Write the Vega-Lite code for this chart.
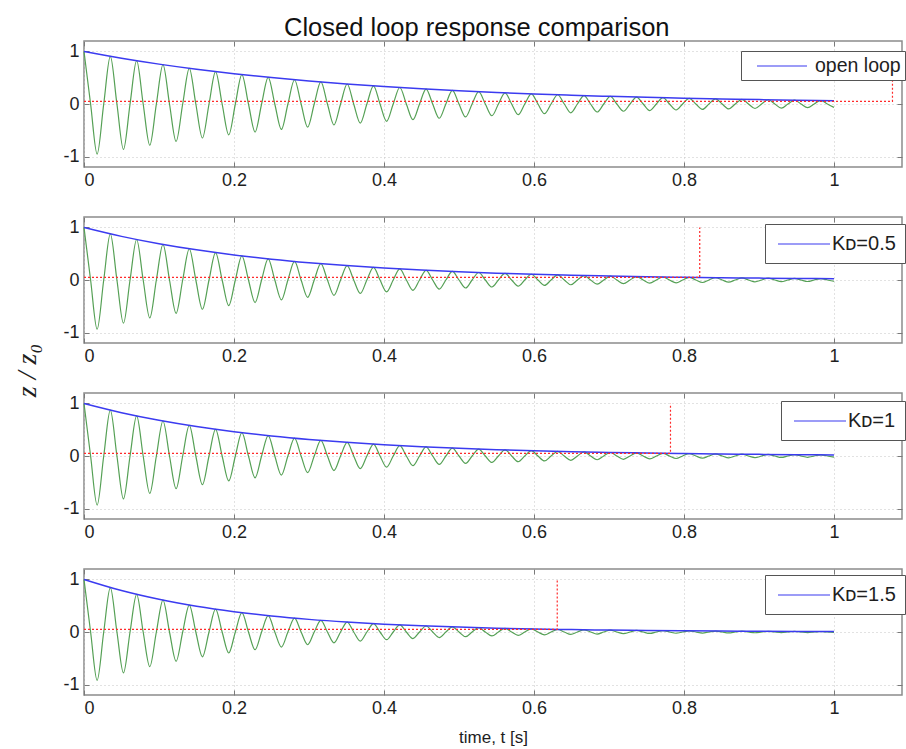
{
  "$schema": "https://vega.github.io/schema/vega-lite/v6.json",
  "padding": {"left": 12, "top": 16, "right": 0, "bottom": 0},
  "title": {"text": "Closed loop response comparison", "fontSize": 25.5, "fontWeight": "normal", "font": "Liberation Sans", "color": "#111", "anchor": "start", "frame": "group", "dx": 200, "offset": -2},
  "datasets": {
    "osc": [
      {"t":0,"a":1,"b":1,"c":1,"d":1},{"t":0.0088,"a":0,"b":0,"c":0,"d":0},
      {"t":0.0175,"a":-0.9529,"b":-0.9371,"c":-0.9347,"d":-0.92},{"t":0.0263,"a":0,"b":0,"c":0,"d":0},
      {"t":0.0351,"a":0.908,"b":0.8783,"c":0.8736,"d":0.8465},{"t":0.0439,"a":0,"b":0,"c":0,"d":0},
      {"t":0.0526,"a":-0.8653,"b":-0.8231,"c":-0.8166,"d":-0.7788},{"t":0.0614,"a":0,"b":0,"c":0,"d":0},
      {"t":0.0702,"a":0.8245,"b":0.7714,"c":0.7632,"d":0.7165},{"t":0.0789,"a":0,"b":0,"c":0,"d":0},
      {"t":0.0877,"a":-0.7857,"b":-0.7229,"c":-0.7134,"d":-0.6592},{"t":0.0965,"a":0,"b":0,"c":0,"d":0},
      {"t":0.1053,"a":0.7487,"b":0.6774,"c":0.6668,"d":0.6065},{"t":0.114,"a":0,"b":0,"c":0,"d":0},
      {"t":0.1228,"a":-0.7134,"b":-0.6348,"c":-0.6233,"d":-0.558},{"t":0.1316,"a":0,"b":0,"c":0,"d":0},
      {"t":0.1404,"a":0.6798,"b":0.5949,"c":0.5825,"d":0.5134},{"t":0.1491,"a":0,"b":0,"c":0,"d":0},
      {"t":0.1579,"a":-0.6478,"b":-0.5576,"c":-0.5445,"d":-0.4724},{"t":0.1667,"a":0,"b":0,"c":0,"d":0},
      {"t":0.1754,"a":0.6173,"b":0.5225,"c":0.5089,"d":0.4346},{"t":0.1842,"a":0,"b":0,"c":0,"d":0},
      {"t":0.193,"a":-0.5882,"b":-0.4897,"c":-0.4757,"d":-0.3998},{"t":0.2018,"a":0,"b":0,"c":0,"d":0},
      {"t":0.2105,"a":0.5605,"b":0.4589,"c":0.4446,"d":0.3679},{"t":0.2193,"a":0,"b":0,"c":0,"d":0},
      {"t":0.2281,"a":-0.5341,"b":-0.43,"c":-0.4156,"d":-0.3385},{"t":0.2368,"a":0,"b":0,"c":0,"d":0},
      {"t":0.2456,"a":0.5089,"b":0.403,"c":0.3884,"d":0.3114},{"t":0.2544,"a":0,"b":0,"c":0,"d":0},
      {"t":0.2632,"a":-0.485,"b":-0.3777,"c":-0.3631,"d":-0.2865},{"t":0.2719,"a":0,"b":0,"c":0,"d":0},
      {"t":0.2807,"a":0.4621,"b":0.3539,"c":0.3394,"d":0.2636},{"t":0.2895,"a":0,"b":0,"c":0,"d":0},
      {"t":0.2982,"a":-0.4403,"b":-0.3317,"c":-0.3172,"d":-0.2425},{"t":0.307,"a":0,"b":0,"c":0,"d":0},
      {"t":0.3158,"a":0.4196,"b":0.3109,"c":0.2965,"d":0.2231},{"t":0.3246,"a":0,"b":0,"c":0,"d":0},
      {"t":0.3333,"a":-0.3998,"b":-0.2913,"c":-0.2771,"d":-0.2053},{"t":0.3421,"a":0,"b":0,"c":0,"d":0},
      {"t":0.3509,"a":0.381,"b":0.273,"c":0.259,"d":0.1889},{"t":0.3596,"a":0,"b":0,"c":0,"d":0},
      {"t":0.3684,"a":-0.3631,"b":-0.2558,"c":-0.2421,"d":-0.1738},{"t":0.3772,"a":0,"b":0,"c":0,"d":0},
      {"t":0.386,"a":0.346,"b":0.2397,"c":0.2263,"d":0.1599},{"t":0.3947,"a":0,"b":0,"c":0,"d":0},
      {"t":0.4035,"a":-0.3297,"b":-0.2247,"c":-0.2115,"d":-0.1471},{"t":0.4123,"a":0,"b":0,"c":0,"d":0},
      {"t":0.4211,"a":0.3141,"b":0.2106,"c":0.1977,"d":0.1353},{"t":0.4298,"a":0,"b":0,"c":0,"d":0},
      {"t":0.4386,"a":-0.2994,"b":-0.1973,"c":-0.1848,"d":-0.1245},{"t":0.4474,"a":0,"b":0,"c":0,"d":0},
      {"t":0.4561,"a":0.2852,"b":0.1849,"c":0.1727,"d":0.1146},{"t":0.4649,"a":0,"b":0,"c":0,"d":0},
      {"t":0.4737,"a":-0.2718,"b":-0.1733,"c":-0.1614,"d":-0.1054},{"t":0.4825,"a":0,"b":0,"c":0,"d":0},
      {"t":0.4912,"a":0.259,"b":0.1624,"c":0.1509,"d":0.097},{"t":0.5,"a":0,"b":0,"c":0,"d":0},
      {"t":0.5088,"a":-0.2468,"b":-0.1522,"c":-0.141,"d":-0.0892},{"t":0.5175,"a":0,"b":0,"c":0,"d":0},
      {"t":0.5263,"a":0.2352,"b":0.1427,"c":0.1318,"d":0.0821},{"t":0.5351,"a":0,"b":0,"c":0,"d":0},
      {"t":0.5439,"a":-0.2241,"b":-0.1337,"c":-0.1232,"d":-0.0755},{"t":0.5526,"a":0,"b":0,"c":0,"d":0},
      {"t":0.5614,"a":0.2135,"b":0.1253,"c":0.1152,"d":0.0695},{"t":0.5702,"a":0,"b":0,"c":0,"d":0},
      {"t":0.5789,"a":-0.2035,"b":-0.1174,"c":-0.1076,"d":-0.0639},{"t":0.5877,"a":0,"b":0,"c":0,"d":0},
      {"t":0.5965,"a":0.1939,"b":0.11,"c":0.1006,"d":0.0588},{"t":0.6053,"a":0,"b":0,"c":0,"d":0},
      {"t":0.614,"a":-0.1848,"b":-0.1031,"c":-0.094,"d":-0.0541},{"t":0.6228,"a":0,"b":0,"c":0,"d":0},
      {"t":0.6316,"a":0.1761,"b":0.0966,"c":0.0879,"d":0.0498},{"t":0.6404,"a":0,"b":0,"c":0,"d":0},
      {"t":0.6491,"a":-0.1678,"b":-0.0906,"c":-0.0821,"d":-0.0458},{"t":0.6579,"a":0,"b":0,"c":0,"d":0},
      {"t":0.6667,"a":0.1599,"b":0.0849,"c":0.0768,"d":0.0421},{"t":0.6754,"a":0,"b":0,"c":0,"d":0},
      {"t":0.6842,"a":-0.1524,"b":-0.0795,"c":-0.0718,"d":-0.0388},{"t":0.693,"a":0,"b":0,"c":0,"d":0},
      {"t":0.7018,"a":0.1452,"b":0.0745,"c":0.0671,"d":0.0357},{"t":0.7105,"a":0,"b":0,"c":0,"d":0},
      {"t":0.7193,"a":-0.1383,"b":-0.0698,"c":-0.0627,"d":-0.0328},{"t":0.7281,"a":0,"b":0,"c":0,"d":0},
      {"t":0.7368,"a":0.1318,"b":0.0655,"c":0.0586,"d":0.0302},{"t":0.7456,"a":0,"b":0,"c":0,"d":0},
      {"t":0.7544,"a":-0.1256,"b":-0.0613,"c":-0.0548,"d":-0.0278},{"t":0.7632,"a":0,"b":0,"c":0,"d":0},
      {"t":0.7719,"a":0.1197,"b":0.0575,"c":0.0512,"d":0.0256},{"t":0.7807,"a":0,"b":0,"c":0,"d":0},
      {"t":0.7895,"a":-0.114,"b":-0.0539,"c":-0.0479,"d":-0.0235},{"t":0.7982,"a":0,"b":0,"c":0,"d":0},
      {"t":0.807,"a":0.1087,"b":0.0505,"c":0.0447,"d":0.0216},{"t":0.8158,"a":0,"b":0,"c":0,"d":0},
      {"t":0.8246,"a":-0.1036,"b":-0.0473,"c":-0.0418,"d":-0.0199},{"t":0.8333,"a":0,"b":0,"c":0,"d":0},
      {"t":0.8421,"a":0.0987,"b":0.0443,"c":0.0391,"d":0.0183},{"t":0.8509,"a":0,"b":0,"c":0,"d":0},
      {"t":0.8596,"a":-0.094,"b":-0.0415,"c":-0.0365,"d":-0.0169},{"t":0.8684,"a":0,"b":0,"c":0,"d":0},
      {"t":0.8772,"a":0.0896,"b":0.0389,"c":0.0341,"d":0.0155},{"t":0.886,"a":0,"b":0,"c":0,"d":0},
      {"t":0.8947,"a":-0.0854,"b":-0.0365,"c":-0.0319,"d":-0.0143},{"t":0.9035,"a":0,"b":0,"c":0,"d":0},
      {"t":0.9123,"a":0.0814,"b":0.0342,"c":0.0298,"d":0.0131},{"t":0.9211,"a":0,"b":0,"c":0,"d":0},
      {"t":0.9298,"a":-0.0775,"b":-0.032,"c":-0.0279,"d":-0.0121},{"t":0.9386,"a":0,"b":0,"c":0,"d":0},
      {"t":0.9474,"a":0.0739,"b":0.03,"c":0.0261,"d":0.0111},{"t":0.9561,"a":0,"b":0,"c":0,"d":0},
      {"t":0.9649,"a":-0.0704,"b":-0.0281,"c":-0.0243,"d":-0.0102},{"t":0.9737,"a":0,"b":0,"c":0,"d":0},
      {"t":0.9825,"a":0.0671,"b":0.0264,"c":0.0228,"d":0.0094},{"t":0.9912,"a":0,"b":0,"c":0,"d":0},
      {"t":1,"a":-0.0639,"b":-0.0247,"c":-0.0213,"d":-0.0087}
    ],
    "env": [
      {"t":0,"a":1,"b":1,"c":1,"d":1},
      {"t":0.05,"a":0.8715,"b":0.8311,"c":0.8249,"d":0.7886},
      {"t":0.1,"a":0.7596,"b":0.6907,"c":0.6805,"d":0.6219},
      {"t":0.15,"a":0.662,"b":0.5741,"c":0.5613,"d":0.4904},
      {"t":0.2,"a":0.5769,"b":0.4771,"c":0.463,"d":0.3867},
      {"t":0.25,"a":0.5028,"b":0.3965,"c":0.3819,"d":0.305},
      {"t":0.3,"a":0.4382,"b":0.3296,"c":0.3151,"d":0.2405},
      {"t":0.35,"a":0.3819,"b":0.2739,"c":0.2599,"d":0.1896},
      {"t":0.4,"a":0.3329,"b":0.2276,"c":0.2144,"d":0.1496},
      {"t":0.45,"a":0.2901,"b":0.1892,"c":0.1768,"d":0.118},
      {"t":0.5,"a":0.2528,"b":0.1572,"c":0.1459,"d":0.093},
      {"t":0.55,"a":0.2204,"b":0.1307,"c":0.1203,"d":0.0733},
      {"t":0.6,"a":0.192,"b":0.1086,"c":0.0993,"d":0.0578},
      {"t":0.65,"a":0.1674,"b":0.0903,"c":0.0819,"d":0.0456},
      {"t":0.7,"a":0.1459,"b":0.075,"c":0.0675,"d":0.036},
      {"t":0.75,"a":0.1271,"b":0.0624,"c":0.0557,"d":0.0284},
      {"t":0.8,"a":0.1108,"b":0.0518,"c":0.046,"d":0.0224},
      {"t":0.85,"a":0.0966,"b":0.0431,"c":0.0379,"d":0.0176},
      {"t":0.9,"a":0.0842,"b":0.0358,"c":0.0313,"d":0.0139},
      {"t":0.95,"a":0.0733,"b":0.0297,"c":0.0258,"d":0.011},
      {"t":1,"a":0.0639,"b":0.0247,"c":0.0213,"d":0.0087}
    ],
    "settle": [
      {"p":1,"o":1,"t":0,"z":0.05},{"p":1,"o":2,"t":1.078,"z":0.05},{"p":1,"o":3,"t":1.078,"z":1},
      {"p":2,"o":1,"t":0,"z":0.05},{"p":2,"o":2,"t":0.821,"z":0.05},{"p":2,"o":3,"t":0.821,"z":1},
      {"p":3,"o":1,"t":0,"z":0.05},{"p":3,"o":2,"t":0.782,"z":0.05},{"p":3,"o":3,"t":0.782,"z":1},
      {"p":4,"o":1,"t":0,"z":0.05},{"p":4,"o":2,"t":0.631,"z":0.05},{"p":4,"o":3,"t":0.631,"z":1}
    ]
  },
  "vconcat": [
    {
      "width": 818, "height": 126,
      "layer": [
        {"data": {"name": "osc"}, "mark": {"type": "line", "color": "#55a055", "strokeWidth": 1.2, "interpolate": "monotone"},
         "encoding": {
           "x": {"field": "t", "type": "quantitative", "scale": {"domain": [0, 1.0907], "nice": false}, "axis": {"orient": "top", "labels": false, "grid": false, "values": [0,0.2,0.4,0.6,0.8,1], "title": null, "minExtent": 0, "maxExtent": 0}},
           "y": {"field": "a", "type": "quantitative", "scale": {"domain": [-1.2, 1.2], "nice": false}, "axis": {"orient": "right", "labels": false, "grid": false, "values": [-1,0,1], "title": null, "minExtent": 0, "maxExtent": 0}}}},
        {"data": {"name": "env"}, "mark": {"type": "line", "strokeWidth": 1.5, "interpolate": "monotone"},
         "encoding": {
           "x": {"field": "t", "type": "quantitative", "axis": {"orient": "bottom", "grid": true, "values": [0,0.2,0.4,0.6,0.8,1], "format": "~g", "title": null}},
           "y": {"field": "a", "type": "quantitative", "axis": {"orient": "left", "grid": true, "values": [-1,0,1], "format": "~g", "labelExpr": "replace(datum.label, '−', '-')", "title": null}},
           "color": {"datum": "open loop", "scale": {"range": ["#3b3bf0"]}, "legend": {"title": null, "labelFontSize": 19.5, "padding": 4, "symbolType": "M0.1,0H5.1", "labelOffset": 48, "orient": "none", "legendX": 657, "legendY": 10}}}},
        {"data": {"name": "settle"}, "transform": [{"filter": "datum.p == 1"}], "mark": {"type": "line", "color": "#ff2a2a", "strokeDash": [2, 2], "strokeWidth": 1.2},
         "encoding": {"x": {"field": "t", "type": "quantitative", "axis": null}, "y": {"field": "z", "type": "quantitative", "axis": null}, "order": {"field": "o"}}}
      ],
      "resolve": {"axis": {"x": "independent", "y": "independent"}}
    },
    {
      "width": 818, "height": 126,
      "layer": [
        {"data": {"name": "osc"}, "mark": {"type": "line", "color": "#55a055", "strokeWidth": 1.2, "interpolate": "monotone"},
         "encoding": {
           "x": {"field": "t", "type": "quantitative", "scale": {"domain": [0, 1.0907], "nice": false}, "axis": {"orient": "top", "labels": false, "grid": false, "values": [0,0.2,0.4,0.6,0.8,1], "title": null, "minExtent": 0, "maxExtent": 0}},
           "y": {"field": "b", "type": "quantitative", "scale": {"domain": [-1.2, 1.2], "nice": false}, "axis": {"orient": "right", "labels": false, "grid": false, "values": [-1,0,1], "title": null, "minExtent": 0, "maxExtent": 0}}}},
        {"data": {"name": "env"}, "mark": {"type": "line", "strokeWidth": 1.5, "interpolate": "monotone"},
         "encoding": {
           "x": {"field": "t", "type": "quantitative", "axis": {"orient": "bottom", "grid": true, "values": [0,0.2,0.4,0.6,0.8,1], "format": "~g", "title": null}},
           "y": {"field": "b", "type": "quantitative", "axis": {"orient": "left", "grid": true, "values": [-1,0,1], "format": "~g", "labelExpr": "replace(datum.label, '−', '-')", "title": "z / z₀", "titleFont": "Liberation Serif", "titleFontStyle": "italic", "titleFontSize": 28, "titleFontWeight": "normal", "titleAngle": -90, "titleX": -43, "titleY": 153, "titleAlign": "center", "titleBaseline": "bottom"}},
           "color": {"datum": "Kᴅ=0.5", "scale": {"range": ["#3b3bf0"]}, "legend": {"title": null, "labelFontSize": 20, "padding": 9, "symbolType": "M-0.7,0H4.5", "labelOffset": 36, "orient": "none", "legendX": 681, "legendY": 7}}}},
        {"data": {"name": "settle"}, "transform": [{"filter": "datum.p == 2"}], "mark": {"type": "line", "color": "#ff2a2a", "strokeDash": [2, 2], "strokeWidth": 1.2},
         "encoding": {"x": {"field": "t", "type": "quantitative", "axis": null}, "y": {"field": "z", "type": "quantitative", "axis": null}, "order": {"field": "o"}}}
      ],
      "resolve": {"axis": {"x": "independent", "y": "independent"}}
    },
    {
      "width": 818, "height": 126,
      "layer": [
        {"data": {"name": "osc"}, "mark": {"type": "line", "color": "#55a055", "strokeWidth": 1.2, "interpolate": "monotone"},
         "encoding": {
           "x": {"field": "t", "type": "quantitative", "scale": {"domain": [0, 1.0907], "nice": false}, "axis": {"orient": "top", "labels": false, "grid": false, "values": [0,0.2,0.4,0.6,0.8,1], "title": null, "minExtent": 0, "maxExtent": 0}},
           "y": {"field": "c", "type": "quantitative", "scale": {"domain": [-1.2, 1.2], "nice": false}, "axis": {"orient": "right", "labels": false, "grid": false, "values": [-1,0,1], "title": null, "minExtent": 0, "maxExtent": 0}}}},
        {"data": {"name": "env"}, "mark": {"type": "line", "strokeWidth": 1.5, "interpolate": "monotone"},
         "encoding": {
           "x": {"field": "t", "type": "quantitative", "axis": {"orient": "bottom", "grid": true, "values": [0,0.2,0.4,0.6,0.8,1], "format": "~g", "title": null}},
           "y": {"field": "c", "type": "quantitative", "axis": {"orient": "left", "grid": true, "values": [-1,0,1], "format": "~g", "labelExpr": "replace(datum.label, '−', '-')", "title": null}},
           "color": {"datum": "Kᴅ=1", "scale": {"range": ["#3b3bf0"]}, "legend": {"title": null, "labelFontSize": 20, "padding": 9, "symbolType": "M-0.7,0H4.5", "labelOffset": 36, "orient": "none", "legendX": 697, "legendY": 8}}}},
        {"data": {"name": "settle"}, "transform": [{"filter": "datum.p == 3"}], "mark": {"type": "line", "color": "#ff2a2a", "strokeDash": [2, 2], "strokeWidth": 1.2},
         "encoding": {"x": {"field": "t", "type": "quantitative", "axis": null}, "y": {"field": "z", "type": "quantitative", "axis": null}, "order": {"field": "o"}}}
      ],
      "resolve": {"axis": {"x": "independent", "y": "independent"}}
    },
    {
      "width": 818, "height": 126,
      "layer": [
        {"data": {"name": "osc"}, "mark": {"type": "line", "color": "#55a055", "strokeWidth": 1.2, "interpolate": "monotone"},
         "encoding": {
           "x": {"field": "t", "type": "quantitative", "scale": {"domain": [0, 1.0907], "nice": false}, "axis": {"orient": "top", "labels": false, "grid": false, "values": [0,0.2,0.4,0.6,0.8,1], "title": null, "minExtent": 0, "maxExtent": 0}},
           "y": {"field": "d", "type": "quantitative", "scale": {"domain": [-1.2, 1.2], "nice": false}, "axis": {"orient": "right", "labels": false, "grid": false, "values": [-1,0,1], "title": null, "minExtent": 0, "maxExtent": 0}}}},
        {"data": {"name": "env"}, "mark": {"type": "line", "strokeWidth": 1.5, "interpolate": "monotone"},
         "encoding": {
           "x": {"field": "t", "type": "quantitative", "axis": {"orient": "bottom", "grid": true, "values": [0,0.2,0.4,0.6,0.8,1], "format": "~g", "title": "time, t [s]", "titleFontSize": 17, "titlePadding": 12}},
           "y": {"field": "d", "type": "quantitative", "axis": {"orient": "left", "grid": true, "values": [-1,0,1], "format": "~g", "labelExpr": "replace(datum.label, '−', '-')", "title": null}},
           "color": {"datum": "Kᴅ=1.5", "scale": {"range": ["#3b3bf0"]}, "legend": {"title": null, "labelFontSize": 20, "padding": 9, "symbolType": "M-0.7,0H4.5", "labelOffset": 36, "orient": "none", "legendX": 681, "legendY": 6}}}},
        {"data": {"name": "settle"}, "transform": [{"filter": "datum.p == 4"}], "mark": {"type": "line", "color": "#ff2a2a", "strokeDash": [2, 2], "strokeWidth": 1.2},
         "encoding": {"x": {"field": "t", "type": "quantitative", "axis": null}, "y": {"field": "z", "type": "quantitative", "axis": null}, "order": {"field": "o"}}}
      ],
      "resolve": {"axis": {"x": "independent", "y": "independent"}}
    }
  ],
  "spacing": 50,
  "bounds": "flush",
  "resolve": {"scale": {"color": "independent"}, "legend": {"color": "independent"}},
  "config": {
    "font": "Liberation Sans",
    "view": {"stroke": "#8c8c8c", "strokeWidth": 1.5},
    "axis": {"labelFont": "Liberation Sans", "labelFontSize": 18, "labelColor": "#1e1e1e", "tickColor": "#7a7a7a", "tickSize": -5, "domain": false, "gridColor": "#c4c4c4", "gridDash": [1, 3], "gridWidth": 1, "titleFont": "Liberation Sans", "titleFontWeight": "normal", "titleColor": "#1e1e1e"},
    "axisX": {"labelPadding": 9},
    "axisY": {"labelPadding": 10},
    "legend": {"strokeColor": "#555", "fillColor": "white", "symbolSize": 400, "symbolStrokeWidth": 1.2, "labelFont": "Liberation Sans", "labelColor": "#1e1e1e", "cornerRadius": 0}
  }
}
